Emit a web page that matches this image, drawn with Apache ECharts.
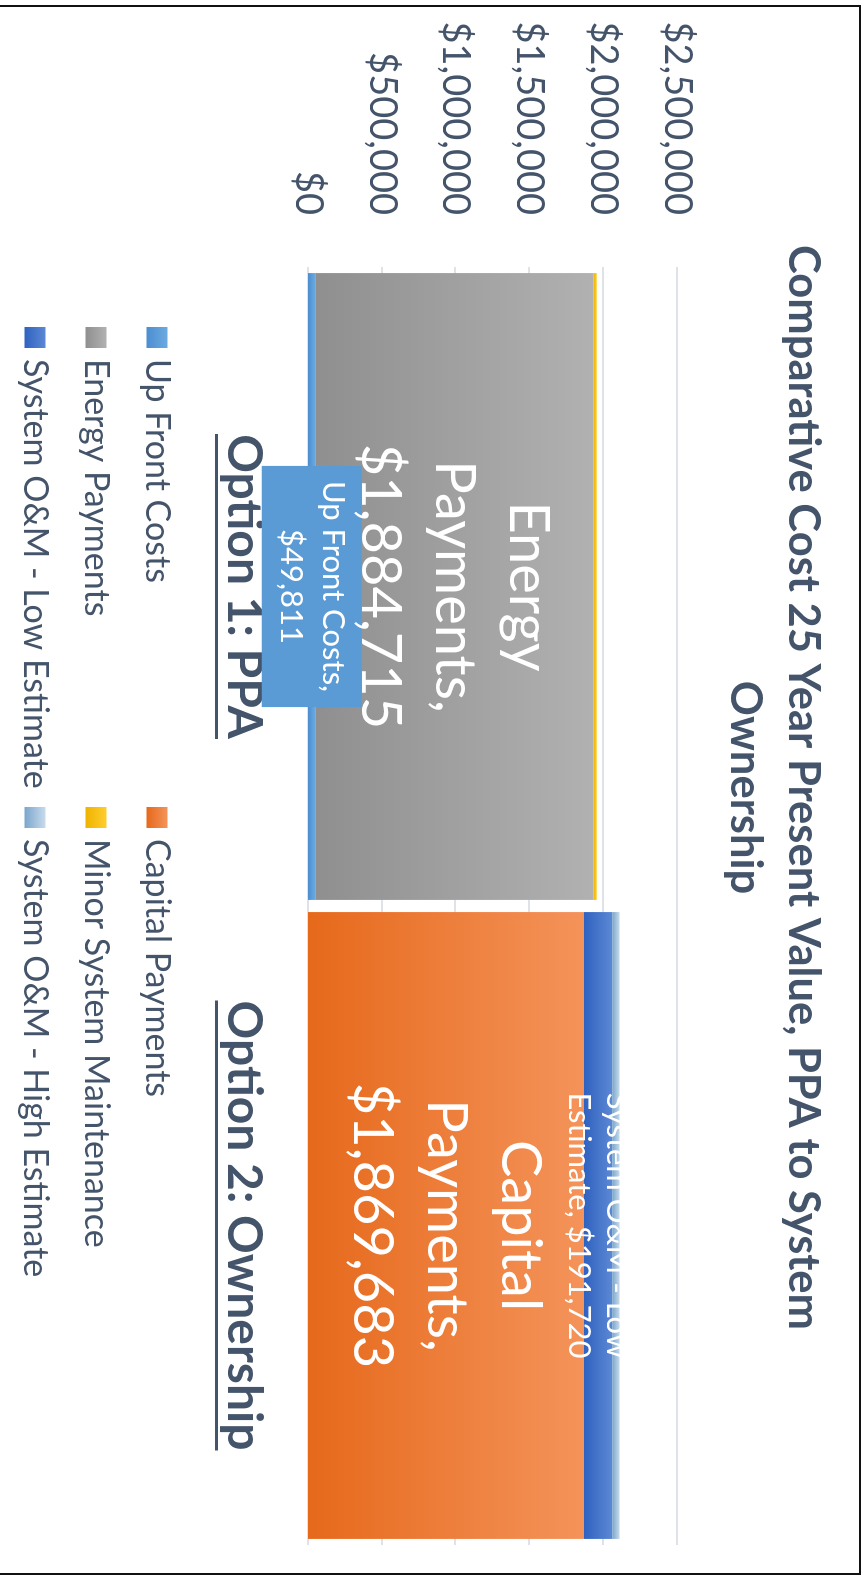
<!DOCTYPE html>
<html lang="en">

<head>
    <meta charset="UTF-8">
    <title>Comparative Cost</title>
</head>
<style>
    body {
        margin: 0;
        background: #fff;
    }

    #page {
        position: absolute;
        left: 0;
        top: 0;
        width: 864px;
        height: 1575px;
        overflow: hidden;
        background: #fff;
    }

    /* chart is drawn landscape, then turned a quarter clockwise */
    #chart {
        position: absolute;
        left: 0;
        top: 0;
        width: 1575px;
        height: 864px;
        transform-origin: 0 0;
        transform: translate(864px, 0) rotate(90deg);
    }

    #frame {
        position: absolute;
        left: -3px;
        top: 5px;
        width: 860px;
        height: 1566px;
        border: 2px solid #111;
    }
</style>

<body>
    <div id="page">
        <div id="chart"></div>
        <div id="frame"></div>
    </div>

    <script src="https://cdn.jsdelivr.net/npm/echarts@6/dist/echarts.min.js"></script>

    <script>
        var categories = ['Option 1: PPA', 'Option 2: Ownership'];
        var upFrontCosts = [49811, null];
        var energyPayments = [1884715, null];
        var minorMaintenance = [22000, null];
        var capitalPayments = [null, 1869683];
        var omLow = [null, 191720];
        var omHigh = [null, 50000];
        var valueMax = 2500000;
        var valueStep = 500000;

        var textColor = '#44546a';
        var font = 'Lato';

        function money(v) {
            return '$' + Number(v).toLocaleString('en-US');
        }

        // bottom-to-top gradient fill like the excel bars
        function grad(dark, light) {
            return new echarts.graphic.LinearGradient(0, 1, 0, 0, [
                { offset: 0, color: dark },
                { offset: 1, color: light }
            ]);
        }

        // width of category text, used for the underline bar
        var ctx = document.createElement('canvas').getContext('2d');
        ctx.font = 'bold 48px ' + font;
        var rich = {
            t: { fontSize: 48, fontWeight: 'bold', color: textColor, fontFamily: font, lineHeight: 50 }
        };
        categories.forEach(function (c, i) {
            rich['u' + i] = { width: Math.round(ctx.measureText(c).width), height: 3, backgroundColor: textColor };
        });

        function bigLabel(p) {
            return p.seriesName.replace(' ', '\n') + ',\n' + money(p.value);
        }

        var myChart = echarts.init(document.getElementById('chart'));
        var option = {
            backgroundColor: '#fff',
            title: {
                text: 'Comparative Cost 25 Year Present Value, PPA to System\nOwnership',
                left: 'center',
                top: 27,
                textStyle: {
                    color: textColor,
                    fontFamily: font,
                    fontWeight: 'bold',
                    fontSize: 43.5,
                    lineHeight: 58
                }
            },
            legend: [{
                orient: 'vertical',
                left: 322,
                top: 682,
                icon: 'rect',
                itemWidth: 21,
                itemHeight: 21,
                itemGap: 21,
                data: ['Up Front Costs', 'Energy Payments', 'System O&M - Low Estimate'],
                textStyle: { color: textColor, fontFamily: font, fontSize: 34, lineHeight: 40, padding: [0, 0, 0, 6] }
            }, {
                orient: 'vertical',
                left: 802,
                top: 682,
                icon: 'rect',
                itemWidth: 21,
                itemHeight: 21,
                itemGap: 21,
                data: ['Capital Payments', 'Minor System Maintenance', 'System O&M - High Estimate'],
                textStyle: { color: textColor, fontFamily: font, fontSize: 34, lineHeight: 40, padding: [0, 0, 0, 6] }
            }],
            grid: {
                left: 267,
                right: 30,
                top: 187,
                bottom: 308
            },
            xAxis: {
                type: 'category',
                data: categories,
                axisTick: { show: false },
                axisLine: { show: false },
                axisLabel: {
                    interval: 0,
                    margin: 40,
                    formatter: function (v, i) {
                        return '{t|' + v + '}\n{u' + i + '|}';
                    },
                    rich: rich
                }
            },
            yAxis: {
                type: 'value',
                min: 0,
                max: valueMax,
                interval: valueStep,
                axisLine: { show: false },
                axisTick: { show: false },
                splitLine: { lineStyle: { color: '#dfe3e9', width: 2 } },
                axisLabel: {
                    formatter: money,
                    color: textColor,
                    fontFamily: font,
                    fontSize: 38,
                    margin: 52
                }
            },
            series: [{
                name: 'Up Front Costs',
                type: 'bar',
                stack: 'cost',
                barCategoryGap: '1.9%',
                data: upFrontCosts,
                itemStyle: { color: grad('#4b8dd0', '#6caae0') },
                label: {
                    show: true,
                    position: 'inside',
                    formatter: function (p) { return p.seriesName + ',\n' + money(p.value); },
                    color: '#fff',
                    fontFamily: font,
                    fontSize: 31,
                    lineHeight: 42,
                    backgroundColor: '#5b9bd5',
                    padding: [8, 15]
                }
            }, {
                name: 'Energy Payments',
                type: 'bar',
                stack: 'cost',
                data: energyPayments,
                itemStyle: { color: grad('#8f8f8f', '#b1b1b1') },
                label: {
                    show: true,
                    position: 'inside',
                    formatter: bigLabel,
                    color: '#fff',
                    fontFamily: font,
                    fontSize: 56,
                    lineHeight: 74
                }
            }, {
                name: 'Minor System Maintenance',
                type: 'bar',
                stack: 'cost',
                data: minorMaintenance,
                itemStyle: { color: grad('#efb300', '#ffcd2e') }
            }, {
                name: 'Capital Payments',
                type: 'bar',
                stack: 'cost',
                data: capitalPayments,
                itemStyle: { color: grad('#e6691b', '#f4935a') },
                label: {
                    show: true,
                    position: 'inside',
                    formatter: bigLabel,
                    color: '#fff',
                    fontFamily: font,
                    fontSize: 56,
                    lineHeight: 74
                }
            }, {
                name: 'System O&M - Low Estimate',
                type: 'bar',
                stack: 'cost',
                data: omLow,
                itemStyle: { color: grad('#2f62c0', '#5c88d4') },
                label: {
                    show: true,
                    position: 'inside',
                    formatter: function (p) { return 'System O&M - Low\nEstimate, ' + money(p.value); },
                    color: '#fff',
                    fontFamily: font,
                    fontSize: 31,
                    lineHeight: 38
                }
            }, {
                name: 'System O&M - High Estimate',
                type: 'bar',
                stack: 'cost',
                data: omHigh,
                itemStyle: { color: grad('#7aa6cc', '#c8dbec') }
            }]
        };
        myChart.setOption(option);

        // the low-estimate label is cut off above the top of its bar
        var total = capitalPayments[1] + omLow[1] + omHigh[1];
        var topPt = myChart.convertToPixel({ gridIndex: 0 }, [1, total]);
        myChart.setOption({
            graphic: [{
                type: 'rect',
                z: 100,
                shape: { x: topPt[0] - 318, y: topPt[1] - 24, width: 636, height: 24 },
                style: { fill: '#fff' }
            }]
        });
    </script>
</body>

</html>
